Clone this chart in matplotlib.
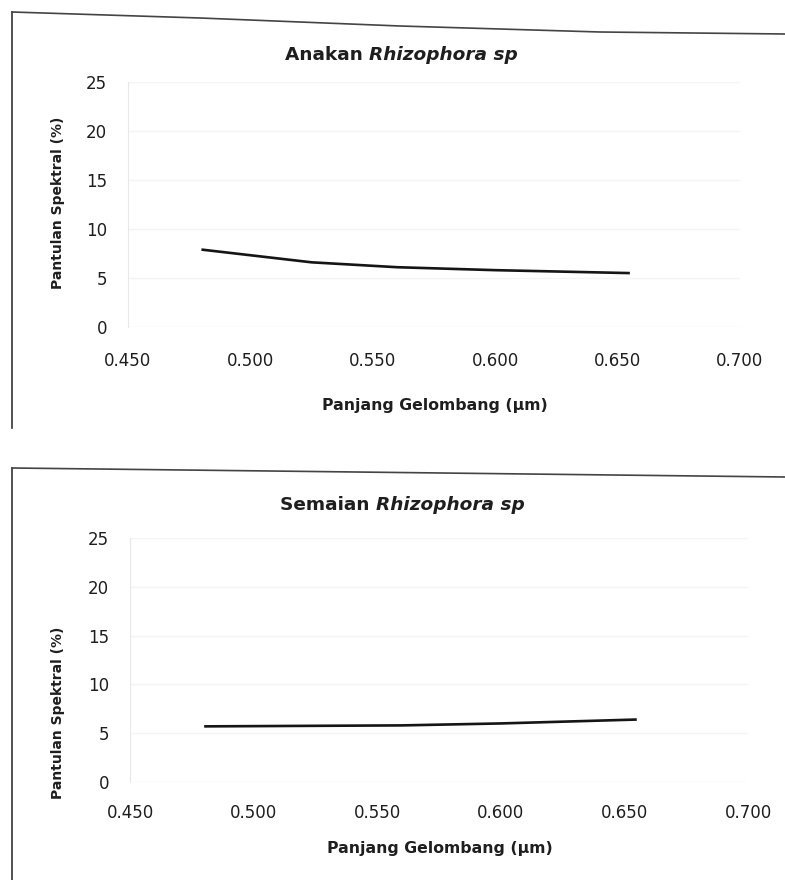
import numpy as np
import matplotlib
import matplotlib.pyplot as plt

matplotlib.use('Agg')
plt.rcParams['font.family'] = ['DejaVu Sans']

# reflectance readings per sample type
wavelength_anakan = [0.480, 0.525, 0.560, 0.600, 0.655]
pantulan_anakan = [7.9, 6.6, 6.1, 5.8, 5.5]

wavelength_semaian = [0.480, 0.560, 0.600, 0.655]
pantulan_semaian = [5.7, 5.8, 6.0, 6.4]

x_ticks = [0.450, 0.500, 0.550, 0.600, 0.650, 0.700]
y_ticks = [0, 5, 10, 15, 20, 25]

W, H = 785, 880
fig = plt.figure(figsize=(W / 100, H / 100), dpi=100)
ink = '#1e1e1e'


def px_axes(left, right, top, bottom):
    return fig.add_axes([left / W, 1 - bottom / H, (right - left) / W, (bottom - top) / H])


def panel(ax, x, y, xpad, ypad):
    ax.plot(x, y, color='#151515', lw=1.9, solid_capstyle='butt')
    ax.set_xlim(0.45, 0.70)
    ax.set_ylim(0, 25)
    ax.set_xticks(x_ticks)
    ax.set_xticklabels(['%.3f' % v for v in x_ticks])
    ax.set_yticks(y_ticks)
    ax.tick_params(length=0, labelsize=12, colors=ink)
    ax.tick_params(axis='x', pad=xpad)
    ax.tick_params(axis='y', pad=ypad)
    ax.grid(axis='y', color='#f4f4f4', lw=1)
    for s in ['top', 'right', 'bottom']:
        ax.spines[s].set_visible(False)
    ax.spines['left'].set_color('#e8e8e8')
    ax.set_facecolor('none')


def add_title(x0, y0, plain, italic):
    # plain part first, italic species name right after it
    t1 = fig.text(x0 / W, 1 - y0 / H, plain, fontsize=13.3, fontweight='bold',
                  color=ink, va='baseline', ha='left')
    fig.canvas.draw()
    bb = t1.get_window_extent()
    fig.text(bb.x1 / W, 1 - y0 / H, italic, fontsize=13.3, fontweight='bold',
             style='italic', color=ink, va='baseline', ha='left')


# top panel: Anakan
ax1 = px_axes(128, 740, 82, 327)
panel(ax1, wavelength_anakan, pantulan_anakan, xpad=18, ypad=15)
add_title(285, 60, 'Anakan ', 'Rhizophora sp')
fig.text(435 / W, 1 - 405 / H, 'Panjang Gelombang (µm)', fontsize=11.3,
         fontweight='bold', color=ink, ha='center', va='center')
fig.text(58 / W, 1 - 203 / H, 'Pantulan Spektral (%)', fontsize=10,
         fontweight='bold', color=ink, ha='center', va='center', rotation=90)

# bottom panel: Semaian
ax2 = px_axes(130, 748, 538, 782)
panel(ax2, wavelength_semaian, pantulan_semaian, xpad=16, ypad=15)
add_title(280, 510, 'Semaian ', 'Rhizophora sp')
fig.text(440 / W, 1 - 848 / H, 'Panjang Gelombang (µm)', fontsize=11.3,
         fontweight='bold', color=ink, ha='center', va='center')
fig.text(58 / W, 1 - 713 / H, 'Pantulan Spektral (%)', fontsize=10,
         fontweight='bold', color=ink, ha='center', va='center', rotation=90)

# page frame lines around each chart
frame = fig.add_axes([0, 0, 1, 1])
frame.set_xlim(0, W)
frame.set_ylim(H, 0)
frame.axis('off')
frame.plot([12, 12], [12, 428], color='#333333', lw=1.2)
frame.plot([12, 200, 400, 600, 785], [12, 18, 26, 32, 34], color='#444444', lw=1.2)
frame.plot([12, 12], [468, 880], color='#333333', lw=1.2)
frame.plot([12, 785], [468, 477], color='#444444', lw=1.2)

fig.savefig('out.png', dpi=100)
